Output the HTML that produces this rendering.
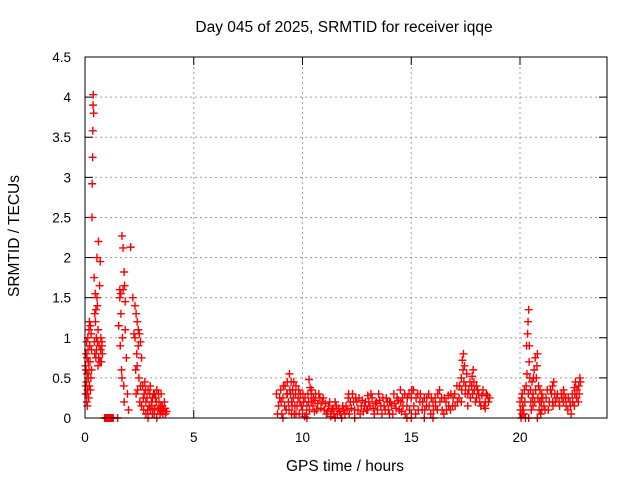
<!DOCTYPE html>
<html><head><meta charset="utf-8"><style>
html,body{margin:0;padding:0;background:#fff}
svg{display:block;font-family:"Liberation Sans",sans-serif}
</style></head><body>
<svg id="chart" width="640" height="480" viewBox="0 0 640 480" xmlns="http://www.w3.org/2000/svg">
<text x="344" y="32" font-size="15.5" text-anchor="middle">Day 045 of 2025, SRMTID for receiver iqqe</text>
<text x="345" y="471" font-size="15.5" text-anchor="middle">GPS time / hours</text>
<text x="19" y="236" font-size="15.5" text-anchor="middle" transform="rotate(-90 19 236)">SRMTID / TECUs</text>
<g id="grid"></g>
<g id="ticks"></g>
<g id="marks"></g>
<rect x="85" y="57" width="522" height="361" fill="none" stroke="#000" stroke-width="1"/>
</svg>
<script>
const xTicks = [0, 5, 10, 15, 20];
const yTicks = [0, 0.5, 1, 1.5, 2, 2.5, 3, 3.5, 4, 4.5];
const yTickLabels = ["0","0.5","1","1.5","2","2.5","3","3.5","4","4.5"];
const samples = [
[0.02,.65],[0.03,.3],[0.05,.8],[0.07,.45],[0.08,.2],[0.1,.55],[0.12,.35],[0.13,1.0],[0.15,.7],[0.17,.25],
[0.2,1.2],[0.22,.9],[0.25,1.15],[0.27,.5],[0.3,.85],[0.32,2.5],[0.33,2.92],[0.35,3.25],[0.36,3.58],[0.37,3.9],
[0.38,4.03],[0.4,3.8],[0.42,1.75],[0.45,1.3],[0.47,1.55],[0.5,.75],[0.52,1.0],[0.55,2.0],[0.57,1.4],[0.6,.65],
[0.62,2.2],[0.65,.9],[0.67,1.65],[0.7,1.95],[0.72,.85],[0.75,.7],[0.77,.95],[0.8,.8],
[0.05,.6],[0.07,.95],[0.1,.3],[0.15,.5],[0.25,.35],[0.45,.8],[0.6,1.1],
[0.9,0],[0.95,0],[1.0,0],[1.05,0],[1.1,0],[1.15,0],[1.2,0],[1.25,0],[1.3,0],[1.5,0],
[1.55,1.15],[1.6,1.6],[1.62,.9],[1.65,1.55],[1.68,.6],[1.7,2.27],[1.72,1.0],[1.75,2.12],[1.78,.4],[1.8,1.82],
[1.82,1.65],[1.85,1.45],[1.9,.75],[1.95,.3],[2.0,.1],[2.1,2.13],[2.2,1.5],[2.25,1.05],[2.3,1.4],[2.33,.6],
[2.35,1.3],[2.38,.8],[2.4,1.2],[2.42,.35],[2.45,1.1],[2.48,.5],[2.5,1.05],[2.52,.2],[2.55,.95],[2.6,.75],
[2.65,.4],[2.7,.1],[2.72,.3],[2.75,.45],[2.8,.05],[2.85,.25],[2.9,.35],[2.95,.15],[3.0,.4],[3.05,.2],
[3.1,.05],[3.15,.3],[3.2,.12],[3.25,.25],[3.3,.35],[3.35,.1],[3.4,.2],[3.45,.05],[3.5,.3],[3.55,.15],
[3.6,.1],[3.65,.2],[3.7,.05],[3.75,.08],[2.8,.2],[2.9,0],[3.0,.1],[3.1,.25],[3.2,.3],[3.3,0],[3.4,.12],[3.5,.08],
[8.8,.3],[8.9,.15],[9.0,.35],[9.05,.05],[9.1,.25],[9.2,.4],[9.25,.1],[9.3,.45],[9.35,.2],[9.4,.55],
[9.45,.3],[9.5,.05],[9.55,.35],[9.6,.45],[9.65,.15],[9.7,.4],[9.8,.25],[9.85,.05],[9.9,.3],[10.0,.1],
[10.05,.2],[10.1,.02],[10.2,.15],[10.25,.3],[10.3,.48],[10.35,.38],[10.4,.2],[10.5,.25],[10.55,.08],[10.6,.3],
[10.7,.18],[10.8,.25],[10.9,.2],[11.0,.1],[11.1,.05],[11.2,.15],[11.3,.02],[11.4,.12],[11.5,.2],[11.6,.05],
[11.7,.08],[11.8,0],[11.9,.1],[12.0,.15],[12.1,.25],[12.15,.05],[12.2,.2],[12.3,.3],[12.4,.1],[12.5,.2],
[12.6,.25],[12.7,.15],[12.8,.08],[12.9,.2],[13.0,.28],[13.1,.15],[13.2,.25],[13.3,.05],[13.4,.2],[13.5,.3],
[13.6,.15],[13.7,.25],[13.8,.1],[13.9,.2],[14.0,.05],[14.1,.15],[14.2,.3],[14.3,.12],[14.4,.22],[14.5,.35],
[14.55,.08],[14.6,.25],[14.7,.3],[14.8,.15],[14.9,.3],[15.0,.25],[15.1,.35],[15.2,.05],[15.3,.3],[15.4,.2],
[15.5,.1],[15.6,.25],[15.7,.15],[15.8,.3],[15.9,.05],[16.0,.2],[16.1,.25],[16.2,.1],[16.3,.35],[16.4,.25],
[16.5,.05],[16.6,.2],[16.7,.28],[16.8,.1],[16.9,.15],[17.0,.3],[17.1,.4],[17.2,.25],[17.3,.5],[17.35,.72],
[17.4,.8],[17.45,.65],[17.5,.4],[17.6,.3],[17.7,.45],[17.8,.52],[17.85,.6],[17.9,.35],[18.0,.25],[18.1,.3],
[18.2,.15],[18.3,.35],[18.4,.2],[18.5,.28],
[9.1,0],[9.3,.3],[9.5,.2],[9.7,.05],[10.2,0],[10.4,.3],[11.5,0],[12.4,0],[13.0,.1],[14.0,.2],
[14.8,0],[15.0,0],[15.6,0],[16.0,0],[17.3,.2],[17.6,.15],[18.0,.4],[18.4,.12],
[20.0,.2],[20.05,0],[20.1,.3],[20.15,.1],[20.2,.35],[20.25,0],[20.3,.9],[20.35,1.05],[20.37,1.2],[20.4,1.35],
[20.42,.7],[20.45,.5],[20.5,.2],[20.55,.45],[20.6,.3],[20.65,.6],[20.7,.75],[20.75,.5],[20.8,.8],[20.85,.4],
[20.9,.2],[20.95,.05],[21.0,.3],[21.1,.15],[21.2,.25],[21.3,.1],[21.4,.35],[21.5,.4],[21.55,.45],[21.6,.3],
[21.7,.25],[21.8,.2],[21.9,.3],[22.0,.2],[22.1,.25],[22.2,.1],[22.3,.2],[22.35,.05],[22.4,.3],[22.5,.38],
[22.55,.45],[22.6,.25],[22.7,.4],[22.75,.5],
[20.1,.05],[20.4,0],[20.6,.15],[20.8,0],[21.0,.1],[21.5,.2],[22.0,.35],[22.5,.15]
];
const samplesExtra = [
[0.04,.4],[0.09,.75],[0.11,.15],[0.14,.85],[0.18,.6],[0.23,.7],[0.28,1.05],[0.43,.95],[0.48,1.2],[0.53,.85],
[0.58,.95],[0.63,.75],[0.68,.7],[0.73,1.0],[0.78,.9],[0.18,1.1],[0.3,.6],[0.55,1.5],[0.5,1.35],[0.2,.4],
[1.6,1.5],[1.65,1.3],[1.7,.5],[1.75,1.6],[1.8,.2],[1.85,1.1],[2.3,1.0],[2.35,.3],[2.4,.65],[2.45,.9],[2.55,.4],[2.6,.15],
[2.68,.25],[2.78,.35],[2.88,.1],[2.98,.3],[3.08,.15],[3.18,.05],[3.28,.2],[3.38,.3],[3.48,.15],[3.58,.05],[3.68,.12],
[8.85,.05],[8.95,.25],[9.02,.2],[9.12,.4],[9.18,.15],[9.28,.3],[9.38,.1],[9.42,.35],[9.48,.45],[9.52,.15],
[9.58,.25],[9.62,.05],[9.68,.3],[9.75,.15],[9.82,.35],[9.88,.2],[9.95,.15],[10.02,.3],[10.12,.25],[10.18,.05],
[10.28,.2],[10.32,.1],[10.42,.35],[10.48,.15],[10.58,.22],[10.65,.1],[10.75,.3],[10.85,.12],[10.95,.25],[11.05,.18],
[11.15,.08],[11.25,.2],[11.35,.1],[11.45,.05],[11.55,.15],[11.65,.12],[11.75,.05],[11.85,.15],[11.95,.05],[12.05,.1],
[12.12,.3],[12.25,.12],[12.35,.2],[12.45,.25],[12.55,.1],[12.65,.05],[12.75,.22],[12.85,.15],[12.95,.1],[13.05,.2],
[13.15,.3],[13.25,.12],[13.35,.18],[13.45,.1],[13.55,.22],[13.65,.05],[13.75,.15],[13.85,.25],[13.95,.1],[14.05,.2],
[14.15,.05],[14.25,.18],[14.35,.25],[14.45,.1],[14.52,.2],[14.62,.15],[14.72,.05],[14.82,.25],[14.92,.1],[15.02,.35],
[15.12,.15],[15.22,.25],[15.32,.1],[15.42,.3],[15.52,.2],[15.62,.1],[15.72,.25],[15.82,.15],[15.92,.25],[16.02,.1],
[16.12,.15],[16.22,.3],[16.32,.2],[16.42,.1],[16.52,.25],[16.62,.1],[16.72,.15],[16.82,.3],[16.92,.25],[17.02,.15],
[17.12,.2],[17.22,.4],[17.32,.35],[17.38,.6],[17.42,.45],[17.48,.3],[17.55,.55],[17.65,.35],[17.72,.25],[17.78,.4],
[17.82,.3],[17.88,.45],[17.95,.2],[18.05,.35],[18.15,.2],[18.25,.28],[18.35,.15],[18.45,.3],[18.55,.2],[18.6,.25],
[20.02,.1],[20.08,.25],[20.12,.15],[20.18,.05],[20.22,.2],[20.28,.4],[20.32,.55],[20.38,.3],[20.43,.9],[20.48,.35],
[20.52,.1],[20.58,.25],[20.62,.5],[20.68,.2],[20.72,.35],[20.78,.65],[20.82,.25],[20.88,.1],[20.92,.35],[20.98,.2],
[21.05,.25],[21.15,.1],[21.25,.35],[21.35,.2],[21.45,.3],[21.52,.15],[21.62,.2],[21.72,.3],[21.82,.15],[21.92,.25],
[22.02,.3],[22.12,.15],[22.22,.25],[22.32,.15],[22.42,.2],[22.52,.3],[22.62,.35],[22.68,.2],[22.72,.3],[22.78,.45]
];
const NS = "http://www.w3.org/2000/svg";
const X0 = 85, X1 = 607, Y0 = 418, Y1 = 57;
function xs(h){ return X0 + h / 24 * (X1 - X0); }
function ys(v){ return Y0 - v / 4.5 * (Y0 - Y1); }
function mk(tag, attrs, parent){ const e = document.createElementNS(NS, tag); for (const k in attrs) e.setAttribute(k, attrs[k]); parent.appendChild(e); return e; }
const grid = document.getElementById('grid'), ticks = document.getElementById('ticks'), marks = document.getElementById('marks');
yTicks.forEach((v, i) => {
  const y = ys(v);
  if (v > 0 && v < 4.5) {
    const g = mk('line', {x1:X0, x2:X1, y1:y, y2:y, stroke:'#a0a0a0', 'stroke-dasharray':'2,3'}, grid);
    
    
  }
  mk('line', {x1:X0, x2:X0+8, y1:y, y2:y, stroke:'#000'}, ticks);
  mk('line', {x1:X1-8, x2:X1, y1:y, y2:y, stroke:'#000'}, ticks);
  const t = mk('text', {x:71, y:y+5, 'font-size':13.5, 'text-anchor':'end'}, ticks);
  t.textContent = yTickLabels[i];
  
  
});
xTicks.forEach(h => {
  const x = xs(h);
  if (h > 0) {
    const g = mk('line', {x1:x, x2:x, y1:Y1, y2:Y0, stroke:'#a0a0a0', 'stroke-dasharray':'2,3'}, grid);
    
    
  }
  mk('line', {x1:x, x2:x, y1:Y0, y2:Y0-8, stroke:'#000'}, ticks);
  mk('line', {x1:x, x2:x, y1:Y1, y2:Y1+8, stroke:'#000'}, ticks);
  const t = mk('text', {x:x, y:442, 'font-size':13.5, 'text-anchor':'middle'}, ticks);
  t.textContent = String(h);
  
  
});
samples.concat(samplesExtra).forEach(p => {
  const x = xs(p[0]), y = ys(p[1]);
  const m = mk('path', {d:`M${x-4} ${y}H${x+4}M${x} ${y-4}V${y+4}`, stroke:'#ff0000', 'stroke-width':1.4, fill:'none'}, marks);
  
  
});
</script>
</body></html>
